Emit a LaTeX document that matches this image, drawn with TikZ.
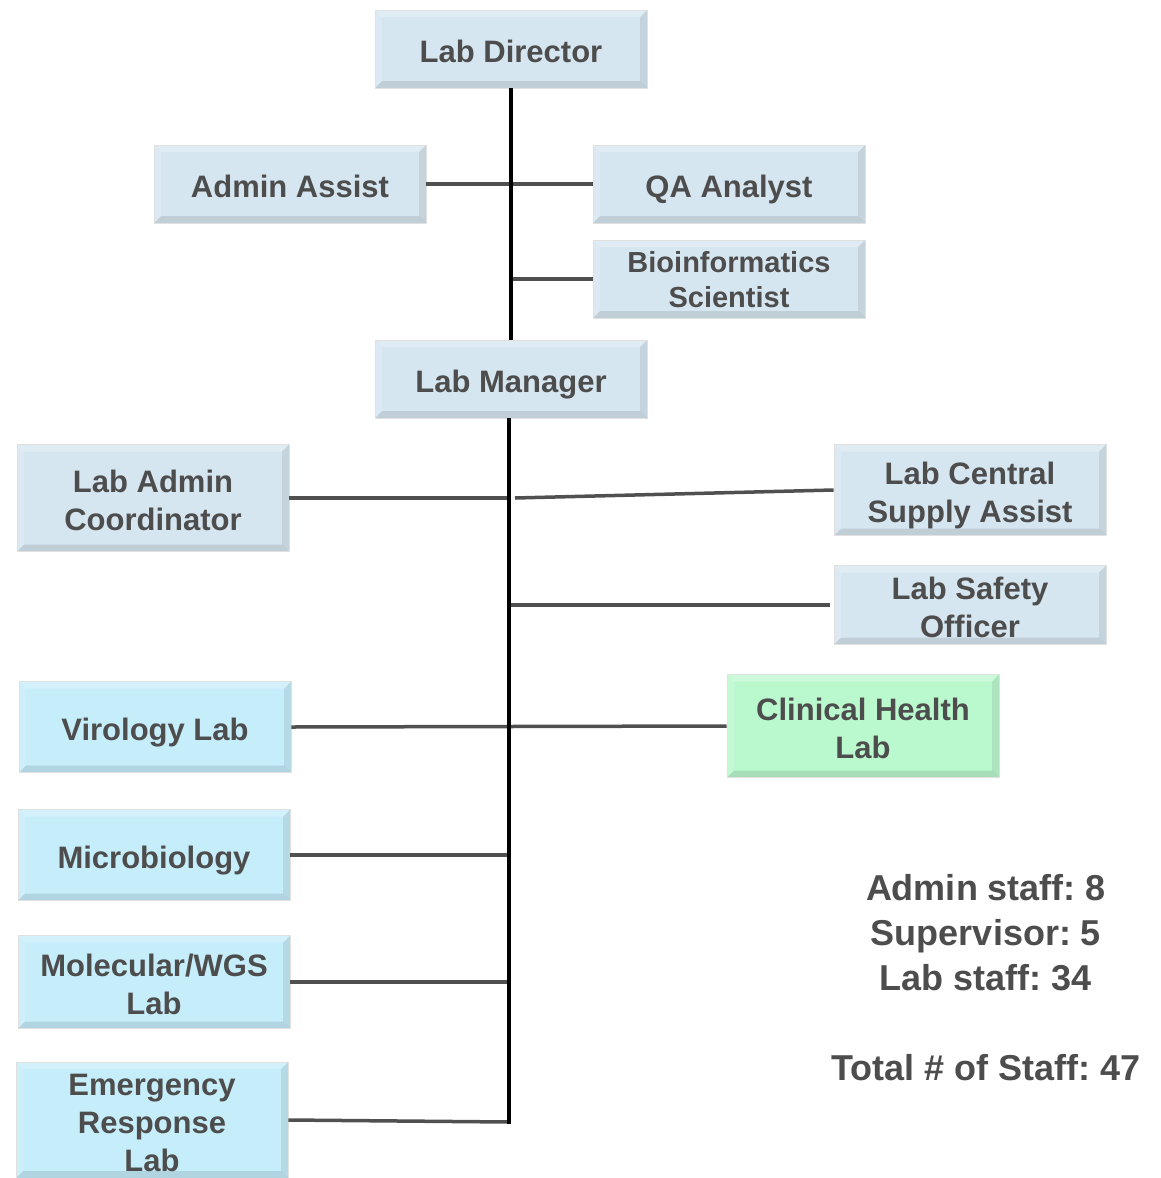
\documentclass[tikz,border=0pt]{standalone}
\usepackage{fontspec}
\setmainfont{Liberation Sans}
\frenchspacing
\usetikzlibrary{positioning}
\definecolor{adminblue}{RGB}{214,230,240}
\definecolor{labblue}{RGB}{197,237,250}
\definecolor{labgreen}{RGB}{186,248,206}
\definecolor{txtgray}{RGB}{77,77,77}
\definecolor{linegray}{RGB}{80,80,80}
\tikzset{
  role/.style={fill=adminblue, draw=black!12, line width=0.8pt, text=txtgray, align=center,
    minimum width=272pt, minimum height=78pt, inner sep=2pt,
    font=\fontsize{31}{38}\selectfont\bfseries,
    text height=27pt, text depth=0pt,
    path picture={
      \fill[black, opacity=0.10] (path picture bounding box.south west) -- (path picture bounding box.south east)
        -- ([shift={(-7pt,7pt)}]path picture bounding box.south east) -- ([shift={(7pt,7pt)}]path picture bounding box.south west) -- cycle;
      \fill[black, opacity=0.08] (path picture bounding box.south east) -- (path picture bounding box.north east)
        -- ([shift={(-7pt,-7pt)}]path picture bounding box.north east) -- ([shift={(-7pt,7pt)}]path picture bounding box.south east) -- cycle;
      \fill[white, opacity=0.25] (path picture bounding box.north west) -- (path picture bounding box.north east)
        -- ([shift={(-7pt,-7pt)}]path picture bounding box.north east) -- ([shift={(7pt,-7pt)}]path picture bounding box.north west) -- cycle;
      \fill[white, opacity=0.15] (path picture bounding box.south west) -- (path picture bounding box.north west)
        -- ([shift={(7pt,-7pt)}]path picture bounding box.north west) -- ([shift={(7pt,7pt)}]path picture bounding box.south west) -- cycle;
    }},
  twoline/.style={text height=65pt},
  lab/.style={role, fill=labblue},
  stat/.style={text=txtgray, font=\fontsize{36}{45}\selectfont\bfseries, inner sep=0pt,
    text height=26pt, text depth=0pt},
  trunk/.style={line width=3.5pt, black},
  branch/.style={line width=3.5pt, linegray}
}
\begin{document}
\begin{tikzpicture}[x=1pt,y=-1pt]
\useasboundingbox (0,0) rectangle (1161,1178);

\node[role] (director) at (511,49) {Lab Director};
\node[role] (adminassist) at (290,184) {Admin Assist};
\node[role] (qa) at (729,184) {QA Analyst};
\node[role, font=\fontsize{29}{35}\selectfont\bfseries, text height=57pt] (bioinf) at (729,279) {Bioinformatics\\Scientist};
\node[role] (manager) at (511,379) {Lab Manager};

\node[role, twoline, minimum height=107pt] (admincoord) at (153,498) {Lab Admin\\Coordinator};
\node[role, twoline, minimum height=91pt] (supply) at (970,490) {Lab Central\\Supply Assist};
\node[role, twoline, minimum height=79pt] (safety) at (970,605) {Lab Safety\\Officer};

\node[lab, minimum height=91pt] (virology) at (155,727) {Virology Lab};
\node[lab, twoline, fill=labgreen, minimum height=103pt] (clinical) at (863,726) {Clinical Health\\Lab};
\node[lab, minimum height=91pt] (micro) at (154,855) {Microbiology};
\node[lab, twoline, minimum height=93pt] (molecular) at (154,982) {Molecular/WGS\\Lab};
\node[lab, text height=103pt, minimum height=116pt] (emergency) at (152,1120) {Emergency\\Response\\Lab};

\coordinate (trunkend) at (509,1122);

\draw[branch] (adminassist.east) -- (qa.west);
\draw[branch] (bioinf.west) -- ([xshift=2pt]bioinf.west -| director.south);
\draw[branch] (admincoord.east) -- (admincoord.east -| trunkend);
\draw[branch] ([xshift=6pt]admincoord.east -| trunkend) -- (supply.west);
\draw[branch] (safety.west -| trunkend) -- ([xshift=-4pt]safety.west);
\draw[branch] (virology.east) -- (clinical.west);
\draw[branch] (micro.east) -- (micro.east -| trunkend);
\draw[branch] (molecular.east) -- (molecular.east -| trunkend);
\draw[branch] (emergency.east) -- (trunkend);

\draw[trunk] (director.south) -- (manager.north);
\draw[trunk] ([xshift=-2pt]manager.south) -- ([yshift=-1.75pt]trunkend);

\node[stat] (adminstaff) at (986,887) {Admin staff: 8};
\node[stat] (supervisor) at (986,932) {Supervisor: 5};
\node[stat] (labstaff) at (986,977) {Lab staff: 34};
\node[stat] (total) at (986,1067) {Total \# of Staff: 47};
\end{tikzpicture}
\end{document}
